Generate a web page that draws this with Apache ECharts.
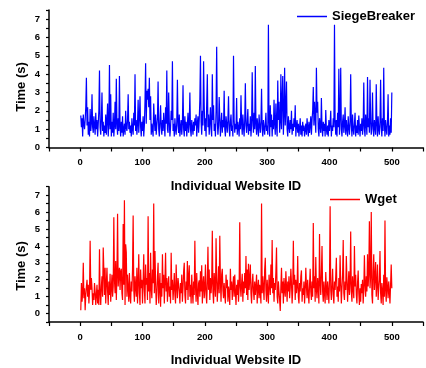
<!DOCTYPE html>
<html>
<head>
<meta charset="utf-8">
<script src="https://cdn.jsdelivr.net/npm/echarts@6/dist/echarts.min.js"></script>
<style>
  html, body { margin: 0; padding: 0; background: #fff; }
  #chart { width: 426px; height: 368px; }
</style>
</head>
<body>
<div id="chart"></div>
<script>
// load time per website (ids 1..500)
var siegeBreaker = [
    1.75, 1.1, 1.6, 0.6, 1.8, 1.3, 1.0, 1.5, 2.2, 3.8,
    1.2, 2.2, 0.7, 1.4, 0.6, 2.1, 0.9, 1.3, 2.9, 1.1,
    0.8, 1.7, 1.2, 0.7, 1.9, 1.0, 1.5, 0.6, 1.3, 2.0,
    4.2, 1.1, 0.7, 1.6, 3.0, 0.9, 1.4, 0.6, 1.2, 0.8,
    1.8, 0.7, 1.5, 2.4, 0.6, 1.3, 4.5, 1.0, 2.9, 0.6,
    1.4, 0.8, 1.9, 0.6, 1.2, 2.5, 1.0, 3.75, 1.3, 0.7,
    1.6, 0.9, 3.9, 1.1, 0.6, 1.4, 0.8, 1.7, 0.6, 1.0,
    1.3, 0.7, 2.0, 1.1, 0.9, 1.5, 2.9, 1.0, 1.4, 0.8,
    1.2, 0.6, 1.6, 1.0, 0.7, 1.9, 1.2, 4.0, 0.9, 1.5,
    0.7, 1.3, 2.6, 0.8, 1.6, 2.8, 1.1, 0.6, 1.4, 0.9,
    1.7, 0.6, 1.2, 2.5, 4.6, 1.3, 3.1, 2.6, 3.2, 2.2,
    3.8, 1.5, 2.8, 0.7, 1.3, 1.0, 0.6, 2.4, 1.5, 0.9,
    1.8, 0.7, 1.2, 1.6, 3.6, 1.0, 0.6, 1.4, 2.3, 1.1,
    0.7, 1.5, 0.9, 1.9, 1.2, 0.6, 2.2, 1.3, 4.2, 1.0,
    0.8, 3.0, 1.4, 0.6, 1.1, 2.0, 1.5, 4.7, 0.9, 1.3,
    0.6, 1.6, 1.0, 0.7, 1.4, 3.7, 1.2, 0.8, 1.8, 0.6,
    1.1, 1.5, 0.7, 1.3, 3.4, 1.0, 0.6, 1.7, 0.9, 1.4,
    0.6, 1.2, 1.9, 0.8, 1.3, 3.0, 1.0, 0.6, 1.5, 1.1,
    0.7, 1.4, 0.9, 1.6, 1.2, 1.8, 0.6, 1.3, 1.7, 0.8,
    1.5, 2.6, 5.0, 1.4, 0.7, 2.0, 1.2, 4.7, 2.3, 0.9,
    1.6, 0.6, 2.4, 4.0, 1.1, 1.8, 0.7, 1.4, 2.2, 1.0,
    0.6, 4.0, 1.5, 2.3, 0.9, 1.3, 0.6, 2.0, 5.5, 1.4,
    0.7, 1.2, 2.75, 1.6, 0.6, 1.3, 1.9, 0.8, 1.5, 1.1,
    3.1, 1.0, 0.6, 1.7, 1.3, 0.8, 1.5, 2.8, 1.0, 0.6,
    1.4, 1.8, 0.9, 1.2, 0.6, 5.0, 1.5, 0.8, 1.3, 1.0,
    2.7, 0.7, 1.4, 1.1, 0.6, 1.6, 1.0, 2.85, 1.3, 0.7,
    1.8, 1.1, 0.6, 1.5, 3.5, 1.2, 0.8, 1.4, 2.1, 0.7,
    1.3, 0.9, 1.7, 0.6, 1.2, 4.1, 1.5, 0.8, 1.9, 1.0,
    4.45, 1.3, 0.7, 1.6, 1.1, 0.6, 1.8, 1.2, 0.8, 1.4,
    3.2, 1.0, 0.6, 1.5, 1.1, 0.7, 1.3, 1.9, 0.9, 1.2,
    0.7, 6.7, 1.4, 0.6, 2.3, 1.1, 1.8, 0.6, 1.5, 1.0,
    2.6, 1.3, 0.7, 2.4, 1.2, 0.6, 3.65, 1.5, 2.5, 0.8,
    1.4, 4.0, 1.0, 2.6, 3.9, 0.7, 1.8, 4.35, 1.2, 2.2,
    3.6, 1.0, 0.6, 1.7, 1.2, 0.8, 1.5, 1.0, 2.0, 0.7,
    1.3, 0.9, 1.6, 1.1, 2.3, 0.6, 1.2, 1.5, 0.8, 1.3,
    0.6, 1.1, 1.6, 0.7, 1.2, 0.6, 1.4, 0.9, 1.2, 0.6,
    1.0, 1.3, 0.7, 1.6, 1.1, 0.6, 1.4, 0.8, 1.2, 1.7,
    0.7, 1.5, 2.0, 3.3, 1.2, 2.5, 2.6, 0.8, 4.35, 1.9,
    2.5, 1.0, 0.6, 1.6, 1.2, 0.8, 2.7, 1.1, 0.6, 1.4,
    0.9, 1.3, 0.6, 2.05, 1.0, 0.7, 1.2, 0.6, 1.5, 0.9,
    1.3, 2.0, 0.6, 1.2, 0.9, 1.6, 1.1, 6.7, 1.4, 0.7,
    1.5, 0.6, 1.9, 1.1, 4.3, 0.7, 1.6, 4.35, 1.0, 0.6,
    1.4, 1.8, 0.8, 1.2, 2.2, 0.7, 1.5, 1.0, 0.6, 1.7,
    1.1, 0.7, 1.4, 4.0, 1.2, 0.6, 1.8, 1.0, 0.7, 1.3,
    1.9, 0.6, 1.2, 0.8, 1.5, 0.7, 1.75, 1.1, 0.6, 1.3,
    0.9, 1.6, 0.7, 1.2, 3.55, 1.0, 0.6, 1.8, 1.3, 0.7,
    3.85, 1.1, 1.6, 0.8, 3.7, 1.4, 0.7, 1.2, 3.0, 1.0,
    0.6, 1.5, 1.1, 0.7, 3.45, 1.3, 0.6, 1.7, 1.0, 0.7,
    1.4, 3.7, 1.1, 0.6, 1.6, 0.9, 4.35, 1.3, 0.6, 1.5,
    1.0, 0.7, 1.4, 2.9, 0.6, 1.2, 0.7, 1.6, 0.8, 3.0
];

var wget = [
    0.2, 1.8, 0.7, 1.2, 3.0, 0.9, 1.5, 0.2, 1.1, 1.6,
    2.0, 1.0, 1.7, 0.6, 1.3, 4.3, 1.4, 2.1, 1.5, 0.5,
    1.2, 0.8, 1.8, 1.3, 0.5, 1.1, 1.7, 0.6, 1.4, 0.5,
    3.8, 1.2, 0.5, 1.6, 2.2, 1.0, 3.9, 2.5, 1.1, 2.7,
    0.6, 1.8, 2.7, 1.3, 0.5, 1.9, 1.1, 2.35, 0.7, 1.5,
    2.3, 1.0, 1.6, 5.7, 2.0, 1.2, 3.1, 0.8, 2.2, 5.9,
    1.6, 2.3, 2.7, 1.4, 2.5, 2.65, 1.2, 0.8, 5.3, 1.7,
    6.7, 0.5, 4.1, 3.6, 1.0, 2.3, 1.5, 0.7, 2.4, 1.1,
    0.6, 1.9, 1.3, 2.6, 5.8, 1.4, 0.7, 2.2, 1.6, 1.0,
    2.7, 0.6, 1.8, 3.5, 1.2, 0.5, 2.6, 1.5, 2.0, 0.6,
    1.9, 3.5, 1.4, 0.6, 2.9, 1.7, 2.1, 0.8, 5.75, 1.3,
    2.4, 0.6, 3.6, 1.5, 0.9, 2.6, 1.8, 6.5, 1.2, 3.7,
    1.9, 0.5, 1.1, 2.2, 3.0, 0.6, 1.6, 2.4, 0.4, 1.8,
    1.0, 3.5, 1.5, 2.3, 0.6, 1.9, 3.6, 1.3, 2.1, 0.7,
    1.7, 2.2, 1.0, 1.6, 0.6, 3.6, 1.4, 2.0, 0.8, 1.5,
    2.4, 1.1, 0.6, 2.9, 1.6, 0.9, 2.1, 2.07, 1.3, 0.6,
    1.8, 1.2, 2.3, 0.7, 1.5, 2.5, 3.0, 1.1, 0.6, 1.9,
    1.4, 3.1, 0.8, 2.2, 2.85, 1.0, 1.7, 0.6, 2.3, 1.3,
    0.6, 1.9, 1.1, 4.3, 1.6, 0.7, 2.4, 1.2, 0.5, 1.8,
    1.96, 1.0, 2.5, 1.3, 2.85, 0.6, 1.7, 2.2, 0.9, 1.5,
    2.9, 1.1, 0.6, 1.9, 3.95, 1.4, 2.6, 0.8, 2.1, 1.2,
    1.8, 4.9, 1.3, 0.6, 2.4, 1.7, 1.0, 4.45, 2.1, 0.7,
    1.6, 2.8, 1.2, 4.6, 1.9, 0.7, 2.3, 2.65, 1.4, 0.9,
    1.8, 1.1, 0.6, 2.3, 1.5, 2.0, 0.7, 1.6, 1.2, 0.5,
    2.65, 1.4, 1.9, 0.8, 1.6, 2.2, 1.0, 2.3, 1.3, 0.5,
    1.7, 1.1, 2.0, 0.7, 1.5, 5.4, 1.6, 1.0, 1.8, 2.35,
    0.7, 1.9, 1.2, 2.4, 1.5, 3.4, 1.1, 2.6, 0.8, 2.95,
    1.4, 2.0, 2.9, 1.2, 0.6, 1.8, 2.35, 1.3, 0.8, 1.9,
    1.1, 1.6, 2.3, 0.6, 1.5, 2.0, 0.9, 1.7, 1.3, 0.6,
    6.5, 1.2, 2.2, 1.5, 0.8, 2.6, 3.3, 1.4, 0.7, 2.0,
    1.3, 0.6, 2.3, 1.7, 1.1, 2.9, 1.5, 4.35, 1.2, 2.1,
    0.7, 1.8, 1.4, 2.5, 3.9, 1.0, 0.6, 1.9, 1.3, 0.8,
    0.15, 1.6, 2.7, 1.2, 1.9, 0.6, 2.1, 1.4, 1.0, 2.5,
    1.6, 0.7, 1.9, 1.3, 2.2, 0.9, 1.5, 2.65, 1.8, 0.6,
    1.4, 4.3, 1.7, 2.3, 0.8, 2.0, 1.2, 1.6, 3.4, 1.0,
    0.6, 1.8, 1.3, 2.2, 2.55, 0.7, 1.5, 1.1, 1.9, 0.6,
    1.4, 2.7, 1.6, 0.9, 2.0, 1.2, 0.6, 1.7, 2.65, 1.3,
    0.8, 1.9, 1.0, 5.35, 1.5, 2.2, 0.7, 3.35, 1.4, 0.9,
    2.1, 1.6, 0.6, 4.7, 1.8, 1.1, 2.4, 4.0, 1.3, 0.7,
    1.9, 1.2, 0.6, 2.45, 1.5, 0.8, 1.9, 1.3, 0.6, 2.0,
    6.35, 1.4, 0.8, 1.7, 2.65, 1.1, 0.6, 1.9, 1.4, 2.2,
    3.3, 1.0, 1.6, 0.7, 2.1, 1.3, 3.45, 1.8, 0.6, 1.5,
    2.3, 4.35, 1.2, 0.8, 1.9, 1.4, 3.4, 2.0, 0.7, 1.6,
    2.5, 1.1, 1.8, 4.85, 1.3, 0.7, 2.2, 1.5, 0.9, 4.0,
    1.6, 2.3, 1.1, 0.6, 1.8, 2.55, 1.2, 0.5, 1.5, 0.7,
    1.75, 1.2, 2.0, 0.6, 1.4, 3.45, 1.7, 1.0, 2.2, 1.3,
    3.5, 1.6, 2.4, 5.45, 1.5, 2.2, 6.0, 1.1, 0.6, 2.5,
    3.5, 1.4, 2.1, 3.05, 1.0, 1.7, 2.9, 0.8, 1.5, 2.0,
    3.7, 1.2, 0.6, 1.8, 1.3, 0.5, 2.3, 1.0, 5.5, 1.4,
    0.7, 2.15, 1.6, 0.9, 1.9, 1.3, 0.6, 1.7, 2.9, 1.5
];

var xTickLabels = [0, 100, 200, 300, 400, 500];
var yTickLabels = [0, 1, 2, 3, 4, 5, 6, 7];

var FONT = '"Liberation Sans", Arial, sans-serif';

function toPoints(arr) {
    return arr.map(function (v, i) { return [i + 1, v]; });
}

function xAxisFor(idx) {
    return {
        gridIndex: idx,
        type: 'value',
        min: -50,
        max: 550,
        interval: 50,
        name: 'Individual Website ID',
        nameLocation: 'middle',
        nameGap: 32,
        nameTextStyle: { fontFamily: FONT, fontWeight: 'bold', fontSize: 13, color: '#000' },
        axisLine: { onZero: false, lineStyle: { color: '#000', width: 1.5 } },
        axisTick: { length: 4, lineStyle: { color: '#000', width: 1.2 } },
        axisLabel: {
            margin: 10,
            fontFamily: FONT, fontWeight: 'bold', fontSize: 9.5, color: '#000',
            formatter: function (v) { return xTickLabels.indexOf(v) >= 0 ? String(v) : ''; }
        },
        splitLine: { show: false }
    };
}

function yAxisFor(idx, min) {
    return {
        gridIndex: idx,
        type: 'value',
        min: min,
        max: 7.5,
        interval: 0.5,
        axisLine: { show: true, onZero: false, lineStyle: { color: '#000', width: 1.5 } },
        axisTick: { show: true, length: 3, lineStyle: { color: '#000', width: 1.2 } },
        axisLabel: {
            margin: 9,
            fontFamily: FONT, fontWeight: 'bold', fontSize: 9.5, color: '#000',
            formatter: function (v) { return yTickLabels.indexOf(v) >= 0 ? String(v) : ''; }
        },
        splitLine: { show: false }
    };
}

var chart = echarts.init(document.getElementById('chart'), null, { renderer: 'canvas' });
chart.setOption({
    animation: false,
    backgroundColor: '#fff',
    grid: [
        { left: 49, top: 10, width: 385, height: 137.5 },
        { left: 49, top: 186.7, width: 385, height: 138.6 }
    ],
    legend: [
        {
            data: ['SiegeBreaker'], left: 292, top: 5,
            icon: 'rect', itemWidth: 30, itemHeight: 1.5,
            textStyle: { fontFamily: FONT, fontWeight: 'bold', fontSize: 13, color: '#000' }
        },
        {
            data: ['Wget'], left: 325, top: 188,
            icon: 'rect', itemWidth: 30, itemHeight: 1.5,
            textStyle: { fontFamily: FONT, fontWeight: 'bold', fontSize: 13, color: '#000' }
        }
    ],
    graphic: [
        {
            type: 'text', x: 21, y: 87, rotation: Math.PI / 2,
            style: { text: 'Time (s)', font: 'bold 13px ' + FONT, fill: '#000', align: 'center', verticalAlign: 'middle' }
        },
        {
            type: 'text', x: 21, y: 266, rotation: Math.PI / 2,
            style: { text: 'Time (s)', font: 'bold 13px ' + FONT, fill: '#000', align: 'center', verticalAlign: 'middle' }
        }
    ],
    xAxis: [xAxisFor(0), xAxisFor(1)],
    yAxis: [yAxisFor(0, 0), yAxisFor(1, -0.5)],
    series: [
        {
            name: 'SiegeBreaker', type: 'line', xAxisIndex: 0, yAxisIndex: 0,
            data: toPoints(siegeBreaker), showSymbol: false,
            itemStyle: { color: '#0000ff' },
            lineStyle: { color: '#0000ff', width: 1.2 }
        },
        {
            name: 'Wget', type: 'line', xAxisIndex: 1, yAxisIndex: 1,
            data: toPoints(wget), showSymbol: false,
            itemStyle: { color: '#ff0000' },
            lineStyle: { color: '#ff0000', width: 1.2 }
        }
    ]
});
</script>
</body>
</html>
